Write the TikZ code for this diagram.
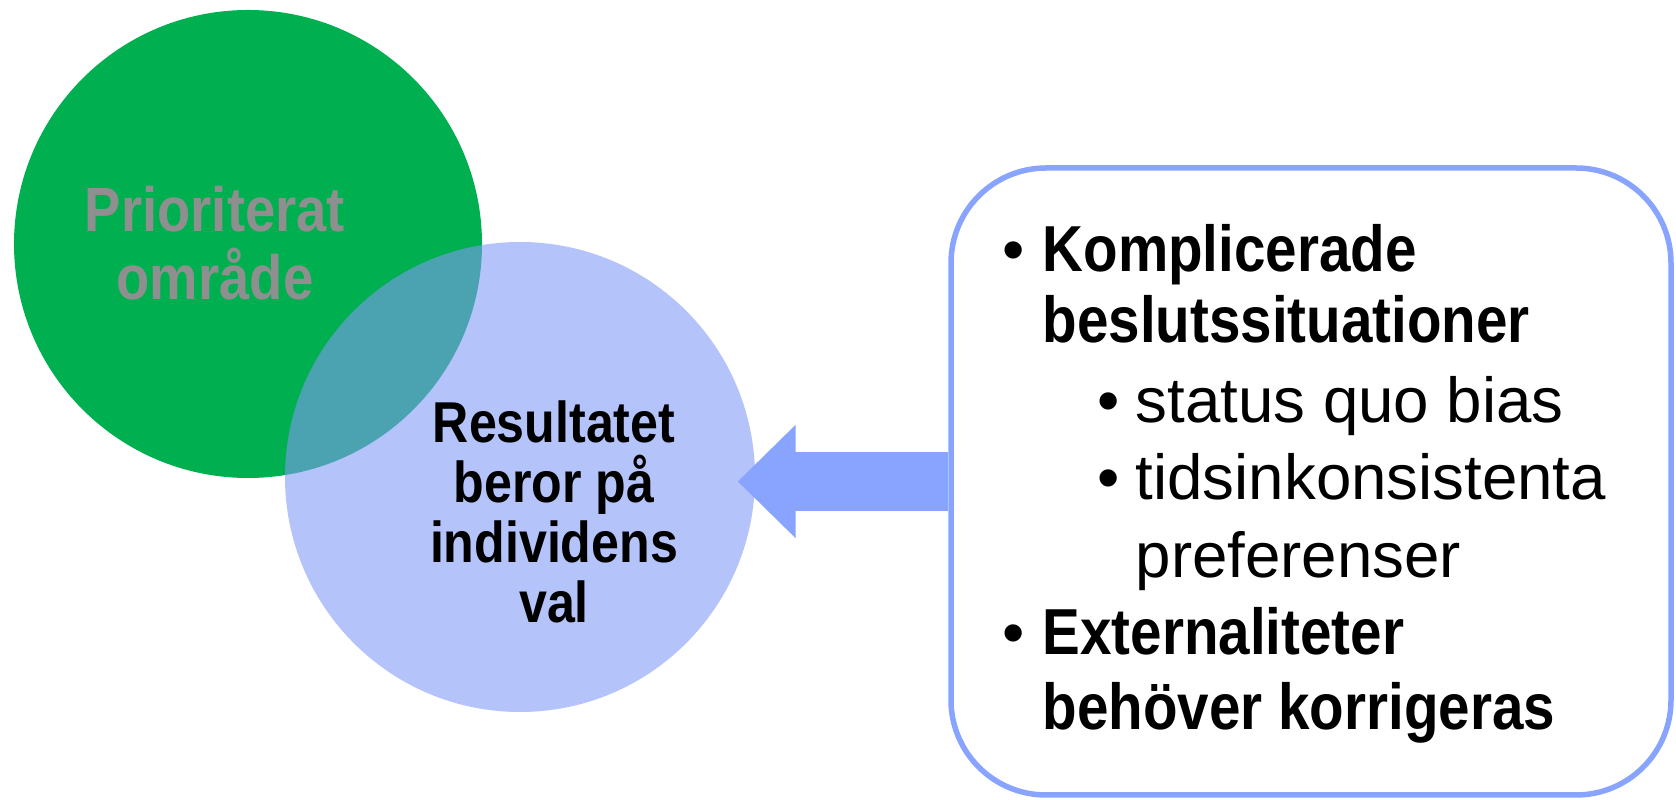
\documentclass[tikz,border=0pt]{standalone}
\usepackage{fontspec}
\setmainfont{Liberation Sans}
\newfontfamily\gothic{Liberation Sans}[FakeStretch=0.87]
\usetikzlibrary{arrows.meta}
\definecolor{prioGreen}{RGB}{0,176,80}
\definecolor{prioGray}{RGB}{143,143,143}
\definecolor{valBlue}{RGB}{128,153,246}
\definecolor{arrowBlue}{RGB}{136,164,255}
\newcommand{\boldtext}{\gothic\bfseries\fontsize{18.5pt}{22pt}\selectfont}
\newcommand{\thintext}{\fontsize{18.1pt}{22pt}\selectfont}
\tikzset{
  item/.style={anchor=base west, inner sep=0pt},
  dot/.style={anchor=base, inner sep=0pt, font=\thintext},
}

\begin{document}
\begin{tikzpicture}[x=0.1mm,y=-0.1mm]
      \useasboundingbox (0,0) rectangle (1676,800);
      \node [circle, fill=prioGreen, minimum size=46.8mm, inner sep=0pt] (omrade) at (248,244) {};
      \node [circle, fill=valBlue, fill opacity=0.59, minimum size=47mm, inner sep=0pt] (val) at (520,477) {};
      % base of a multi-line node is its last line
      \node [text=prioGray, align=center, anchor=base, font=\gothic\bfseries\fontsize{17.8pt}{19.6pt}\selectfont] (omradetext) at (215,300) {Prioriterat\\område};
      \node [align=center, anchor=base, font=\gothic\bfseries\fontsize{16.4pt}{17.1pt}\selectfont] (valtext) at (554,623) {Resultatet\\beror på\\individens\\val};

      \node [draw=arrowBlue, line width=0.55mm, rounded corners=9.5mm, minimum width=72mm, minimum height=62.7mm, inner sep=0pt] (box) at (1311,481.5) {};
      \draw [arrowBlue, line width=5.9mm, -{Triangle[length=5.8mm,width=11mm]}, shorten >=-1.8mm] (box.west) -- (val.east |- box.west);

      \node [dot] (d1) at (1014,272) {•};
      \node [item, font=\boldtext] (k1) at (1042,272) {Komplicerade};
      \node [item, font=\boldtext] (k2) at (1042,343) {beslutssituationer};
      \node [dot] (d2) at (1109,423) {•};
      \node [item, font=\thintext] (s1) at (1135,423) {status quo bias};
      \node [dot] (d3) at (1109,500) {•};
      \node [item, font=\thintext] (s2) at (1135,500) {tidsinkonsistenta};
      \node [item, font=\thintext] (s3) at (1135,578) {preferenser};
      \node [dot] (d4) at (1014,655) {•};
      \node [item, font=\boldtext] (e1) at (1042,655) {Externaliteter};
      \node [item, font=\boldtext] (e2) at (1042,730) {behöver korrigeras};
    \end{tikzpicture}
\end{document}
